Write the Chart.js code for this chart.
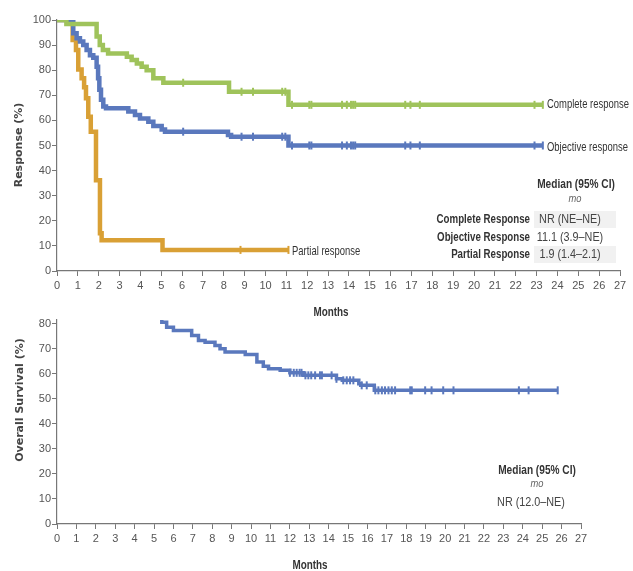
<!DOCTYPE html>
<html>
<head>
<meta charset="utf-8">
<script src="https://cdn.jsdelivr.net/npm/chart.js@4"></script>
<style>
  body { margin: 0; background: #fff; }
  #wrap { position: relative; width: 633px; height: 571px; }
  #top { position: absolute; left: 0; top: 0; }
  #bottom { position: absolute; left: 0; top: 300px; }
</style>
</head>
<body>
<div id="wrap">
  <canvas id="top" width="633" height="320"></canvas>
  <canvas id="bottom" width="633" height="271"></canvas>
</div>
<script>
// Top panel: duration of response (Kaplan-Meier steps, month -> %)
const completeMonths = [0, 0.45, 1.9, 2.05, 2.2, 2.45, 3.35, 3.58, 3.83, 4.06, 4.3, 4.62, 5.1, 8.25, 11.1, 23.3];
const completePct    = [100, 98.4, 93.4, 90, 88, 86.7, 85.4, 84.1, 82.7, 81.4, 80, 76.8, 75, 71.4, 66.2, 66.2];

const objectiveMonths = [0, 0.78, 0.94, 1.1, 1.26, 1.42, 1.58, 1.74, 1.9, 1.97, 2.03, 2.11, 2.22, 2.35, 3.42, 3.74, 3.98, 4.38, 4.62, 5.02, 5.18, 8.2, 8.35, 11.1, 23.3];
const objectivePct    = [100, 94.7, 92.7, 91.4, 90, 88, 86, 85, 81.4, 76.8, 72.2, 68.2, 65.5, 64.8, 63.5, 62.2, 60.8, 59.5, 57.8, 56.4, 55.5, 54.2, 53.5, 50, 50];

const partialMonths = [0, 0.75, 0.91, 1.02, 1.18, 1.3, 1.39, 1.5, 1.62, 1.87, 2.06, 2.14, 5.06, 11.1];
const partialPct    = [100, 92, 88, 80.3, 76.8, 73.2, 68.8, 61.5, 55.5, 36.2, 15, 12.3, 8.4, 8.4];

const responseCensored = [6.05, 8.85, 9.4, 10.8, 10.95, 11.27, 12.1, 12.2, 13.67, 13.9, 14.1, 14.2, 14.3, 16.7, 16.95, 17.4, 22.9, 23.3];
const partialCensored = [8.8, 11.1];

// Bottom panel: overall survival
const osMonths = [0, 1.5, 2.5, 3.5, 4.5, 5.1, 5.4, 5.65, 6.0, 6.94, 7.29, 7.63, 8.14, 8.4, 8.66, 9.7, 10.3, 10.63, 10.9, 11.5, 12.0, 12.7, 14.4, 14.7, 15.55, 15.65, 16.35, 25.8];
const osPct    = [100, 97, 94, 90, 86, 82.5, 80.6, 78.6, 77.3, 75.3, 73.3, 72.6, 71.3, 70, 68.7, 67.7, 64.7, 63, 62, 61.4, 60.4, 59.4, 58, 57.4, 56, 55.4, 53.4, 53.4];
const osCensored = [12.0, 12.2, 12.35, 12.5, 12.6, 12.8, 12.95, 13.1, 13.3, 13.55, 13.65, 14.15, 14.4, 14.75, 14.93, 15.1, 15.27, 15.7, 15.96, 16.4, 16.56, 16.74, 16.9, 17.08, 17.25, 17.42, 18.2, 18.28, 18.97, 19.3, 19.9, 20.43, 23.8, 24.3, 25.8];

const yTicksTop = [0, 10, 20, 30, 40, 50, 60, 70, 80, 90, 100];
const yTicksBottom = [0, 10, 20, 30, 40, 50, 60, 70, 80];

const medianRows = ["Complete Response", "Objective Response", "Partial Response"];
const medianValues = ["NR (NE\u2013NE)", "11.1 (3.9\u2013NE)", "1.9 (1.4\u20132.1)"];
const osMedian = "NR (12.0\u2013NE)";

const GREEN = "#9fc35b";
const BLUE = "#5a78bd";
const ORANGE = "#d9a035";
const AXIS = "#777";
const SANS = "'Liberation Sans', Arial, sans-serif";

function steps(xs, ys) {
  return xs.map((x, i) => ({ x: x, y: ys[i] }));
}

function valueAt(xs, ys, t) {
  let v = ys[0];
  for (let i = 0; i < xs.length; i++) {
    if (xs[i] <= t) v = ys[i];
  }
  return v;
}

function censorPoints(times, xs, ys) {
  return times.map((t) => ({ x: t, y: valueAt(xs, ys, t) }));
}

function curve(label, xs, ys, color, width) {
  return {
    type: "line", label: label, data: steps(xs, ys), stepped: true,
    borderColor: color, borderWidth: width, pointRadius: 0, fill: false
  };
}

function marks(times, xs, ys, color) {
  return {
    type: "scatter", data: censorPoints(times, xs, ys),
    pointStyle: "line", rotation: 90, pointRadius: 4,
    borderColor: color, borderWidth: 2
  };
}

function axes(yMax, yTicks, yWidth, xHeight) {
  return {
    x: {
      type: "linear", min: 0, max: 27,
      ticks: { stepSize: 1, autoSkip: false, maxRotation: 0, padding: 3, color: "#555", font: { family: SANS, size: 11 } },
      grid: { drawOnChartArea: false, drawTicks: true, tickLength: 5, color: AXIS },
      border: { display: true, color: AXIS, width: 1.2 },
      afterFit: (s) => { s.height = xHeight; }
    },
    y: {
      min: 0, max: yMax,
      ticks: { padding: 1, color: "#555", font: { family: SANS, size: 11 } },
      grid: { drawOnChartArea: false, drawTicks: true, tickLength: 5, color: AXIS },
      border: { display: true, color: AXIS, width: 1.2 },
      afterBuildTicks: (s) => { s.ticks = yTicks.map((v) => ({ value: v })); },
      afterFit: (s) => { s.width = yWidth; }
    }
  };
}

function textPlugin(draw) {
  return {
    id: "texts",
    afterDraw(chart) {
      const ctx = chart.ctx;
      ctx.save();
      draw(ctx, chart);
      ctx.restore();
    }
  };
}

function yTitle(ctx, text, x, y) {
  ctx.save();
  ctx.translate(x, y);
  ctx.rotate(-Math.PI / 2);
  ctx.font = "bold 11px 'DejaVu Sans'";
  ctx.fillStyle = "#444";
  ctx.textAlign = "center";
  ctx.textBaseline = "middle";
  ctx.fillText(text, 0, 0);
  ctx.restore();
}

// condensed-looking text: squeeze the glyphs horizontally
function label(ctx, text, x, y, font, align, color, squeeze) {
  ctx.save();
  ctx.translate(x, y);
  ctx.scale(squeeze || 0.8, 1);
  ctx.font = font;
  ctx.fillStyle = color || "#333";
  ctx.textAlign = align || "left";
  ctx.textBaseline = "middle";
  ctx.fillText(text, 0, 0);
  ctx.restore();
}

const base = {
  responsive: false,
  devicePixelRatio: 1,
  animation: false,
  plugins: { legend: { display: false }, tooltip: { enabled: false } }
};

new Chart(document.getElementById("top"), {
  type: "line",
  data: {
    datasets: [
      curve("Complete response", completeMonths, completePct, GREEN, 4.5),
      curve("Objective response", objectiveMonths, objectivePct, BLUE, 4.5),
      curve("Partial response", partialMonths, partialPct, ORANGE, 4.5),
      marks(responseCensored, completeMonths, completePct, GREEN),
      marks(responseCensored, objectiveMonths, objectivePct, BLUE),
      marks(partialCensored, partialMonths, partialPct, ORANGE)
    ]
  },
  options: Object.assign({}, base, {
    layout: { padding: { top: 20, right: 13, left: 0, bottom: 0 } },
    scales: axes(100, yTicksTop, 57, 49)
  }),
  plugins: [textPlugin((ctx, chart) => {
    yTitle(ctx, "Response (%)", 19, 145);
    label(ctx, "Months", 331, 312, "bold 13px " + SANS, "center", "#333", 0.76);
    label(ctx, "Complete response", 547, 104, "13.5px " + SANS, "left", "#333", 0.7);
    label(ctx, "Objective response", 547, 147, "13.5px " + SANS, "left", "#333", 0.7);
    label(ctx, "Partial response", 292, 251, "13.5px " + SANS, "left", "#333", 0.7);

    label(ctx, "Median (95% CI)", 576, 184, "bold 13.5px " + SANS, "center", "#333", 0.75);
    label(ctx, "mo", 575, 199, "italic 11px " + SANS, "center", "#666", 0.85);
    const rowY = [219, 237, 254];
    ctx.fillStyle = "#f1f1f1";
    [0, 2].forEach((i) => ctx.fillRect(534, rowY[i] - 8, 82, 17));
    medianRows.forEach((name, i) => {
      label(ctx, name, 530, rowY[i], "bold 13.5px " + SANS, "right", "#333", 0.72);
      label(ctx, medianValues[i], 570, rowY[i], "13.5px " + SANS, "center", "#444", 0.8);
    });
  })]
});

new Chart(document.getElementById("bottom"), {
  type: "line",
  data: {
    datasets: [
      curve("Overall survival", osMonths, osPct, BLUE, 3.5),
      marks(osCensored, osMonths, osPct, BLUE)
    ]
  },
  options: Object.assign({}, base, {
    layout: { padding: { top: 20, right: 52, left: 0, bottom: 0 } },
    scales: axes(81.5, yTicksBottom, 57, 47)
  }),
  plugins: [textPlugin((ctx, chart) => {
    yTitle(ctx, "Overall Survival (%)", 20, 100);
    label(ctx, "Months", 310, 265, "bold 13px " + SANS, "center", "#333", 0.76);
    label(ctx, "Median (95% CI)", 537, 170, "bold 13.5px " + SANS, "center", "#333", 0.75);
    label(ctx, "mo", 537, 184, "italic 11px " + SANS, "center", "#666", 0.85);
    label(ctx, osMedian, 531, 202, "13.5px " + SANS, "center", "#444", 0.8);
  })]
});
</script>
</body>
</html>
